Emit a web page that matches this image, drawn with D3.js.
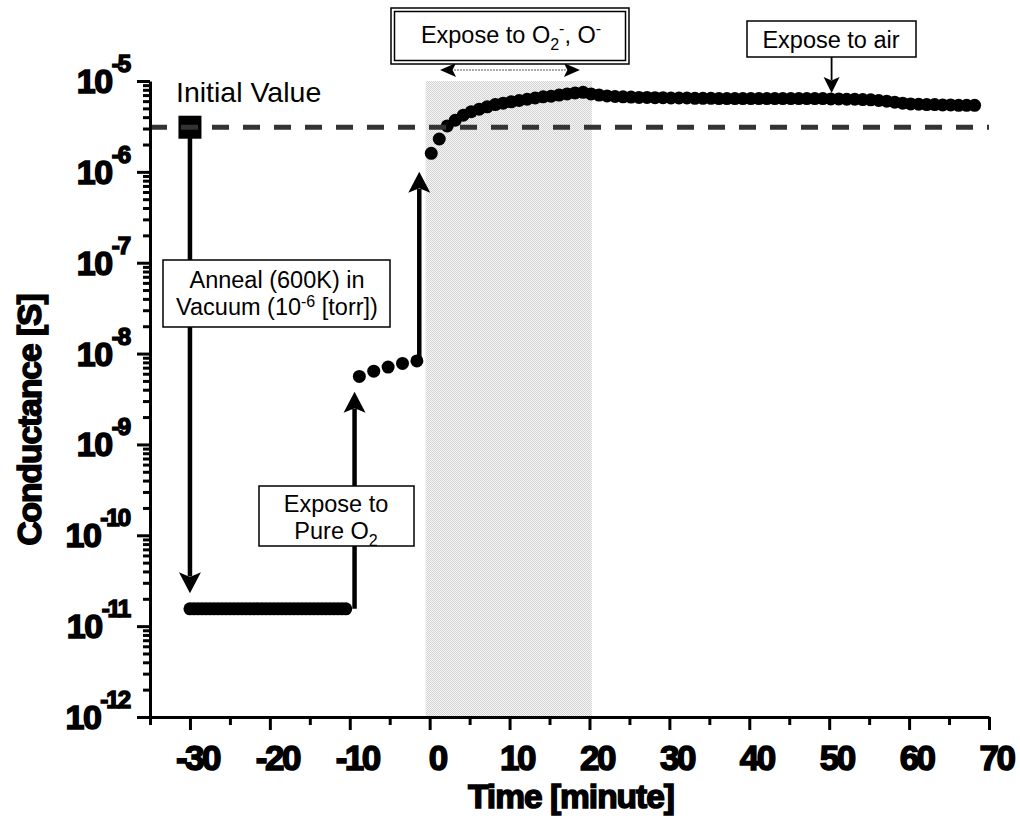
<!DOCTYPE html>
<html>
<head>
<meta charset="utf-8">
<script src="https://cdn.jsdelivr.net/npm/d3@7/dist/d3.min.js"></script>
<style>
  body { margin: 0; background: #fff; }
</style>
</head>
<body>
<div id="container"></div>
<script>
let w = 1020;
let h = 820;

// ---- data ----
let initialTime = [-30];
let initialG = [3.1e-6];

// anneal in vacuum: flat level
let flatTime = [-30, -29.5, -29, -28.5, -28, -27.5, -27, -26.5, -26, -25.5,
  -25, -24.5, -24, -23.5, -23, -22.5, -22, -21.5, -21, -20.5,
  -20, -19.5, -19, -18.5, -18, -17.5, -17, -16.5, -16, -15.5,
  -15, -14.5, -14, -13.5, -13, -12.5, -12, -11.5, -11, -10.5];
let flatG = [1.55e-11, 1.55e-11, 1.55e-11, 1.55e-11, 1.55e-11, 1.55e-11, 1.55e-11, 1.55e-11, 1.55e-11, 1.55e-11,
  1.55e-11, 1.55e-11, 1.55e-11, 1.55e-11, 1.55e-11, 1.55e-11, 1.55e-11, 1.55e-11, 1.55e-11, 1.55e-11,
  1.55e-11, 1.55e-11, 1.55e-11, 1.55e-11, 1.55e-11, 1.55e-11, 1.55e-11, 1.55e-11, 1.55e-11, 1.55e-11,
  1.55e-11, 1.55e-11, 1.55e-11, 1.55e-11, 1.55e-11, 1.55e-11, 1.55e-11, 1.55e-11, 1.55e-11, 1.55e-11];

// pure O2
let o2Time = [-8.8, -7.0, -5.2, -3.4, -1.6];
let o2G = [5.6e-9, 6.4e-9, 7.1e-9, 7.8e-9, 8.3e-9];

// ions, then air
let ionTime = [0.2, 1.2, 2.2, 3.2, 4.2, 5.2, 6.2, 7.2, 8.2, 9.2,
  10.2, 11.2, 12.2, 13.2, 14.2, 15.2, 16.2, 17.2, 18.2, 19.2,
  20.2, 21.2, 22.2, 23.2, 24.2, 25.2, 26.2, 27.2, 28.2, 29.2,
  30.2, 31.2, 32.2, 33.2, 34.2, 35.2, 36.2, 37.2, 38.2, 39.2,
  40.2, 41.2, 42.2, 43.2, 44.2, 45.2, 46.2, 47.2, 48.2, 49.2,
  50.2, 51.2, 52.2, 53.2, 54.2, 55.2, 56.2, 57.2, 58.2, 59.2,
  60.2, 61.2, 62.2, 63.2, 64.2, 65.2, 66.2, 67.2, 68.2];
let ionG = [1.6e-6, 2.3e-6, 3.2e-6, 3.7e-6, 4.2e-6, 4.6e-6, 4.9e-6, 5.2e-6, 5.5e-6, 5.7e-6,
  5.9e-6, 6.1e-6, 6.3e-6, 6.5e-6, 6.7e-6, 6.8e-6, 7.0e-6, 7.2e-6, 7.4e-6, 7.5e-6,
  7.2e-6, 7.0e-6, 6.85e-6, 6.75e-6, 6.7e-6, 6.65e-6, 6.6e-6, 6.6e-6, 6.55e-6, 6.55e-6,
  6.5e-6, 6.5e-6, 6.5e-6, 6.45e-6, 6.45e-6, 6.45e-6, 6.4e-6, 6.4e-6, 6.4e-6, 6.4e-6,
  6.4e-6, 6.4e-6, 6.4e-6, 6.4e-6, 6.4e-6, 6.4e-6, 6.4e-6, 6.4e-6, 6.4e-6, 6.4e-6,
  6.35e-6, 6.35e-6, 6.3e-6, 6.3e-6, 6.25e-6, 6.2e-6, 6.1e-6, 6.0e-6, 5.85e-6, 5.7e-6,
  5.6e-6, 5.55e-6, 5.5e-6, 5.5e-6, 5.45e-6, 5.45e-6, 5.4e-6, 5.4e-6, 5.4e-6];

let shadeRange = [-0.5, 20.3];

let xMajorTicks = [-30, -20, -10, 0, 10, 20, 30, 40, 50, 60, 70];
let xMinorTicks = [-35, -25, -15, -5, 5, 15, 25, 35, 45, 55, 65];
let yDecades = [-12, -11, -10, -9, -8, -7, -6, -5];
let yMinorMantissa = [2, 3, 4, 5, 6, 7, 8, 9];

// ---- setup ----
let font = "'Liberation Sans', Arial, sans-serif";

let viz = d3.select("#container")
  .append("svg")
    .attr("width", w)
    .attr("height", h)
    .style("background-color", "white")
;

let xScale = d3.scaleLinear().domain([-35, 70]).range([150, 989]);
let yScale = d3.scaleLog().domain([1e-12, 1e-5]).range([717, 81]);

// fine gray dither for the shaded region
let defs = viz.append("defs");
let pat = defs.append("pattern").attr("id", "shade")
  .attr("width", 2).attr("height", 2).attr("patternUnits", "userSpaceOnUse");
pat.append("rect").attr("width", 2).attr("height", 2).attr("fill", "#f7f7f7");
pat.append("rect").attr("width", 1).attr("height", 1).attr("fill", "#d2d2d2");
pat.append("rect").attr("x", 1).attr("y", 1).attr("width", 1).attr("height", 1).attr("fill", "#d2d2d2");

viz.append("rect")
  .attr("x", xScale(shadeRange[0]))
  .attr("y", yScale(1e-5))
  .attr("width", xScale(shadeRange[1]) - xScale(shadeRange[0]))
  .attr("height", yScale(1e-12) - yScale(1e-5))
  .attr("fill", "url(#shade)");

// ---- arrows ----
function arrow(g, x1, y1, x2, y2, opts) {
  let len = opts.len, wid = opts.wid;
  let ang = Math.atan2(y2 - y1, x2 - x1);
  let deg = ang * 180 / Math.PI;
  let ex = x2 - Math.cos(ang) * len * 0.8;
  let ey = y2 - Math.sin(ang) * len * 0.8;
  g.append("line")
    .attr("x1", x1).attr("y1", y1).attr("x2", ex).attr("y2", ey)
    .attr("stroke", opts.color || "#000")
    .attr("stroke-width", opts.sw)
    .attr("stroke-dasharray", opts.dash || null);
  g.append("path")
    .attr("d", "M0,0 L" + (-len) + "," + (-wid / 2) + " L" + (-len * 0.78) + ",0 L" + (-len) + "," + (wid / 2) + " Z")
    .attr("transform", "translate(" + x2 + "," + y2 + ") rotate(" + deg + ")")
    .attr("fill", "#000");
}

let arrowGroup = viz.append("g").attr("class", "arrows");

// anneal arrow: from the initial value down to the flat level
arrow(arrowGroup, xScale(-30), yScale(initialG[0]), xScale(-30), yScale(2.3e-11), {len: 21, wid: 22, sw: 4.5});
// pure O2 arrow
arrow(arrowGroup, xScale(-9.4), yScale(1.55e-11), xScale(-9.4), yScale(3.8e-9), {len: 21, wid: 22, sw: 4.5});
// ion arrow
arrow(arrowGroup, xScale(-1.3), yScale(8.3e-9), xScale(-1.3), yScale(1.0e-6), {len: 21, wid: 22, sw: 4.5});
// double headed arrow above the shaded band
let dblY = 70;
let dblMid = (xScale(1.3) + xScale(18.8)) / 2;
arrow(arrowGroup, dblMid, dblY, xScale(1.3), dblY, {len: 16, wid: 14, sw: 1, dash: "2,1", color: "#555"});
arrow(arrowGroup, dblMid, dblY, xScale(18.8), dblY, {len: 16, wid: 14, sw: 1, dash: "2,1", color: "#555"});
// expose to air arrow
arrow(arrowGroup, xScale(50.3), 57, xScale(50.3), 93, {len: 16, wid: 16, sw: 1.8});

// ---- data marks ----
let dotR = 6.5;
let vizGroup = viz.append("g").attr("class", "vizGroup");

function drawDots(times, vals) {
  let pts = times.map(function(t, i){ return {t: t, g: vals[i]}; });
  vizGroup.selectAll(null).data(pts).enter()
    .append("circle")
      .attr("cx", function(d){ return xScale(d.t); })
      .attr("cy", function(d){ return yScale(d.g); })
      .attr("r", dotR)
      .attr("fill", "#000");
}
drawDots(flatTime, flatG);
drawDots(o2Time, o2G);
drawDots(ionTime, ionG);

let sq = 23;
vizGroup.selectAll(null).data(initialTime.map(function(t, i){ return {t: t, g: initialG[i]}; })).enter()
  .append("rect")
    .attr("x", function(d){ return xScale(d.t) - sq / 2; })
    .attr("y", function(d){ return yScale(d.g) - sq / 2; })
    .attr("width", sq).attr("height", sq)
    .attr("fill", "#000");

// dashed reference line at the initial value
viz.append("line")
  .attr("x1", xScale(-35)).attr("x2", xScale(70))
  .attr("y1", yScale(initialG[0])).attr("y2", yScale(initialG[0]))
  .attr("stroke", "#333").attr("stroke-width", 5)
  .attr("stroke-dasharray", "17,14");

// ---- axes ----
let xMinorGroup = viz.append("g").attr("transform", "translate(0,717)");
xMinorGroup.call(d3.axisBottom(xScale).tickValues(xMinorTicks).tickSize(8).tickSizeOuter(0).tickFormat(""));
xMinorGroup.select(".domain").remove();
xMinorGroup.selectAll("line").attr("stroke-width", 3);

let xAxisGroup = viz.append("g").attr("class", "xaxis").attr("transform", "translate(0,717)");
xAxisGroup.call(d3.axisBottom(xScale).tickValues(xMajorTicks).tickSize(13).tickSizeOuter(0)
  .tickFormat(function(d){ return String(d); }));
xAxisGroup.select(".domain").attr("stroke-width", 3);
xAxisGroup.selectAll("line").attr("stroke-width", 3);
xAxisGroup.selectAll("text")
  .attr("x", 7).attr("y", 53).attr("dy", 0)
  .style("font-family", font).style("font-size", "35px").style("font-weight", "bold")
  .style("letter-spacing", "-2.5px")
  .attr("stroke", "#000").attr("stroke-width", 1.5);

let yMinor = [];
yDecades.slice(0, -1).forEach(function(e){
  yMinorMantissa.forEach(function(m){ yMinor.push(m * Math.pow(10, e)); });
});
let yMinorGroup = viz.append("g").attr("transform", "translate(150,0)");
yMinorGroup.call(d3.axisLeft(yScale).tickValues(yMinor).tickSize(7).tickSizeOuter(0).tickFormat(""));
yMinorGroup.select(".domain").remove();
yMinorGroup.selectAll("line").attr("stroke-width", 3);

let yAxisGroup = viz.append("g").attr("class", "yaxis").attr("transform", "translate(150,0)");
yAxisGroup.call(d3.axisLeft(yScale).tickValues(yDecades.map(function(e){ return Math.pow(10, e); }))
  .tickSize(13).tickSizeOuter(0).tickFormat(""));
yAxisGroup.select(".domain").attr("stroke-width", 3);
yAxisGroup.selectAll("line").attr("stroke-width", 3);

let yLabels = viz.append("g").selectAll(null).data(yDecades).enter()
  .append("text")
    .attr("x", 129)
    .attr("y", function(e){ return yScale(Math.pow(10, e)) + 12; })
    .attr("text-anchor", "end")
    .style("font-family", font).style("font-weight", "bold")
    .attr("stroke", "#000").attr("stroke-width", 1.5);
yLabels.append("tspan").style("font-size", "34px").style("letter-spacing", "-1.5px").text("10");
yLabels.append("tspan").attr("dy", -21).style("font-size", "24px").style("letter-spacing", "-2px")
  .text(function(e){ return String(e); });

// axis titles
viz.append("text")
  .attr("x", 571).attr("y", 808)
  .attr("text-anchor", "middle")
  .style("font-family", font).style("font-size", "33.5px").style("font-weight", "bold")
  .style("letter-spacing", "-1px")
  .attr("stroke", "#000").attr("stroke-width", 1.5)
  .text("Time [minute]");

viz.append("text")
  .attr("transform", "translate(41,420) rotate(-90)")
  .attr("text-anchor", "middle")
  .style("font-family", font).style("font-size", "33.5px").style("font-weight", "bold")
  .style("letter-spacing", "-1px")
  .attr("stroke", "#000").attr("stroke-width", 1.5)
  .text("Conductance [S]");

// ---- annotation boxes ----
let notes = viz.append("g").attr("class", "notes").style("font-family", font);

function box(x, y, bw, bh) {
  notes.append("rect").attr("x", x).attr("y", y).attr("width", bw).attr("height", bh)
    .attr("fill", "#fff").attr("stroke", "#000").attr("stroke-width", 1.5);
}

notes.append("text").attr("x", 176).attr("y", 102)
  .style("font-size", "28.5px").text("Initial Value");

// anneal box
box(163, 260, 227, 67);
notes.append("text").attr("x", 277).attr("y", 288).attr("text-anchor", "middle")
  .style("font-size", "23.5px").text("Anneal (600K) in");
let vac = notes.append("text").attr("x", 277).attr("y", 315).attr("text-anchor", "middle")
  .style("font-size", "23.5px");
vac.append("tspan").text("Vacuum (10");
vac.append("tspan").attr("dy", -8).style("font-size", "16px").text("-6");
vac.append("tspan").attr("dy", 8).text(" [torr])");

// pure O2 box
box(259, 486, 155, 60);
notes.append("text").attr("x", 336).attr("y", 512).attr("text-anchor", "middle")
  .style("font-size", "23.5px").text("Expose to");
let pure = notes.append("text").attr("x", 336).attr("y", 539).attr("text-anchor", "middle")
  .style("font-size", "23.5px");
pure.append("tspan").text("Pure O");
pure.append("tspan").attr("dy", 7).style("font-size", "16px").text("2");

// ion box (double frame)
box(391, 8, 238, 56);
notes.append("rect").attr("x", 394.5).attr("y", 11.5).attr("width", 231).attr("height", 49)
  .attr("fill", "none").attr("stroke", "#000").attr("stroke-width", 1.5);
let ion = notes.append("text").attr("x", 511).attr("y", 43).attr("text-anchor", "middle")
  .style("font-size", "23.5px");
ion.append("tspan").text("Expose to O");
ion.append("tspan").attr("dy", 7).style("font-size", "16px").text("2");
ion.append("tspan").attr("dy", -16).style("font-size", "16px").text("-");
ion.append("tspan").attr("dy", 9).text(", O");
ion.append("tspan").attr("dy", -9).style("font-size", "16px").text("-");

// air box
box(747, 21, 169, 36);
notes.append("text").attr("x", 831).attr("y", 48).attr("text-anchor", "middle")
  .style("font-size", "23.5px").text("Expose to air");
</script>
</body>
</html>
